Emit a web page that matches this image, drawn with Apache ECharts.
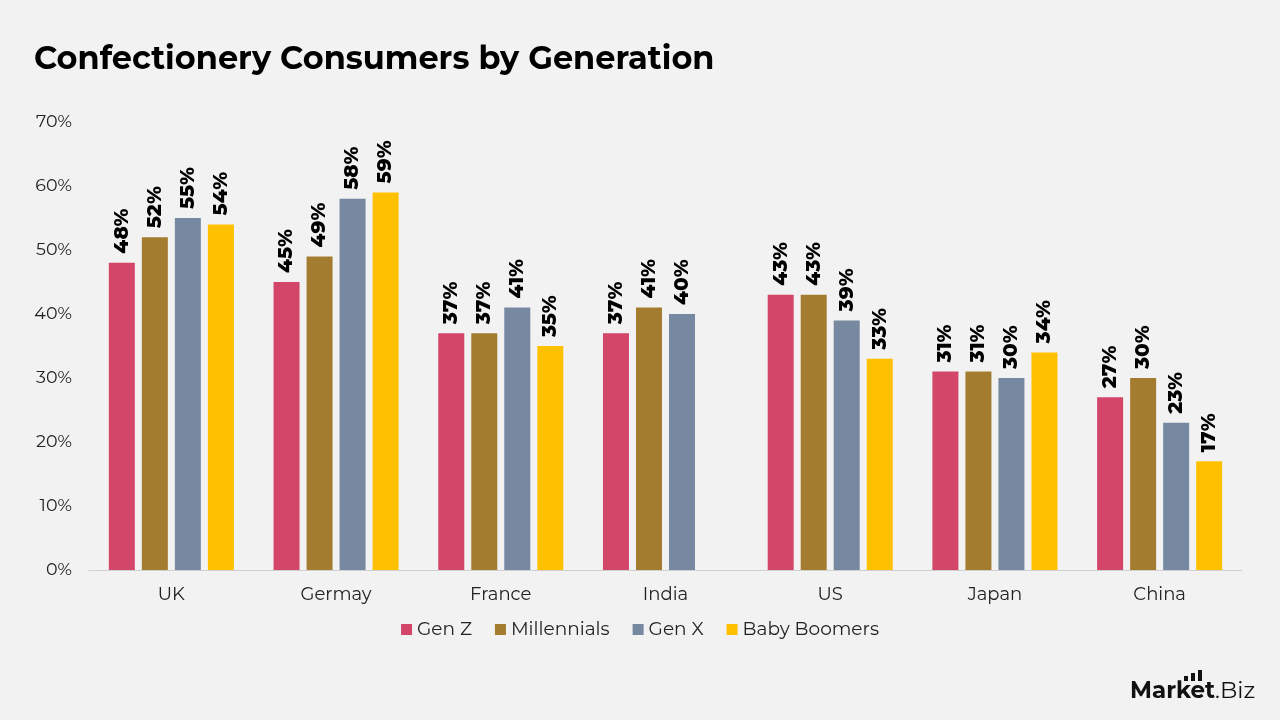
<!DOCTYPE html>
<html>
<head>
<meta charset="utf-8">
<script src="https://cdn.jsdelivr.net/npm/echarts@6/dist/echarts.min.js"></script>
<style>
html,body{margin:0;padding:0;background:#F2F2F2;}
#chart{width:1280px;height:720px;}
</style>
</head>
<body>
<div id="chart"></div>
<script>
const categories = ['UK', 'Germay', 'France', 'India', 'US', 'Japan', 'China'];
const genZ = [48, 45, 37, 37, 43, 31, 27];
const millennials = [52, 49, 37, 41, 43, 31, 30];
const genX = [55, 58, 41, 40, 39, 30, 23];
const babyBoomers = [54, 59, 35, null, 33, 34, 17];
const seriesNames = ['Gen Z', 'Millennials', 'Gen X', 'Baby Boomers'];
const colors = ['#D4456A', '#A47C2F', '#7689A0', '#FFC000'];
const FONT = 'Montserrat, "Open Sans", Lato, sans-serif';

const chart = echarts.init(document.getElementById('chart'));
const dataSets = [genZ, millennials, genX, babyBoomers];
const series = dataSets.map((d, i) => ({
  name: seriesNames[i],
  type: 'bar',
  data: d,
  barWidth: 26,
  barGap: '27%',
  itemStyle: { color: colors[i] },
  label: {
    show: true,
    position: 'top',
    rotate: 90,
    align: 'left',
    verticalAlign: 'middle',
    distance: 9,
    formatter: p => p.value + '%',
    fontFamily: FONT,
    fontWeight: 800,
    fontSize: 20,
    color: '#000'
  }
}));

chart.setOption({
  backgroundColor: '#F2F2F2',
  color: colors,
  title: {
    text: 'Confectionery Consumers by Generation',
    left: 29,
    top: 39,
    textStyle: { fontFamily: FONT, fontWeight: 'bold', fontSize: 32, color: '#000' }
  },
  legend: {
    bottom: 76,
    left: 'center',
    itemWidth: 11,
    itemHeight: 11,
    itemGap: 23,
    icon: 'rect',
    textStyle: { fontFamily: FONT, fontSize: 18.5, color: '#222' },
    data: seriesNames
  },
  grid: { left: 89, right: 38, top: 122, bottom: 150, containLabel: false },
  xAxis: {
    type: 'category',
    data: categories,
    axisLine: { lineStyle: { color: '#D0D0D0' } },
    axisTick: { show: false },
    axisLabel: { fontFamily: FONT, fontSize: 18, color: '#222', margin: 16 }
  },
  yAxis: {
    type: 'value',
    min: 0,
    max: 70,
    interval: 10,
    splitLine: { show: false },
    axisLine: { show: false },
    axisTick: { show: false },
    axisLabel: { fontFamily: FONT, fontSize: 17.5, color: '#222', formatter: '{value}%', margin: 17 }
  },
  graphic: [
    { type: 'rect', shape: { x: 1184, y: 676, width: 4, height: 5 }, style: { fill: '#111' } },
    { type: 'rect', shape: { x: 1191, y: 673, width: 4, height: 8 }, style: { fill: '#111' } },
    { type: 'rect', shape: { x: 1198, y: 670, width: 4, height: 11 }, style: { fill: '#111' } },
    {
      type: 'text',
      left: 1130,
      top: 680,
      style: {
        text: '{b|Market}{r|.Biz}',
        rich: {
          b: { fontFamily: FONT, fontWeight: 'bold', fontSize: 23, fill: '#111' },
          r: { fontFamily: FONT, fontSize: 23, fill: '#111' }
        }
      }
    }
  ],
  series: series
});
</script>
</body>
</html>
